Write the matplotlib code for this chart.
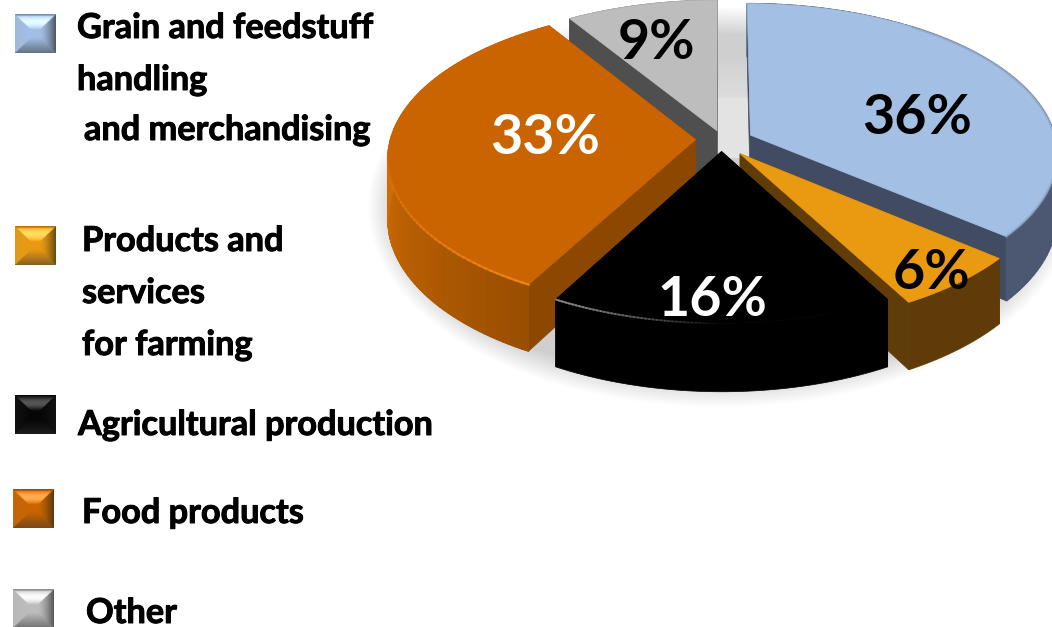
import numpy as np
import matplotlib
matplotlib.use("Agg")
import matplotlib.pyplot as plt
import matplotlib.patheffects as pe
from matplotlib.colors import to_rgb
from matplotlib.patches import Ellipse, Polygon, Rectangle

# shares, clockwise from 12 o'clock
categories = ["Grain and feedstuff handling and merchandising",
              "Products and services for farming",
              "Agricultural production",
              "Food products",
              "Other"]
shares = [36, 6, 16, 33, 9]

top_colors = ["#a3bfe4", "#ea9a10", "#000000", "#c96400", "#bdbdbd"]
side_colors = ["#414c62", "#603d08", "#000000", "#8c4700", "#4f4f4f"]
rim_front = ["#465270", "#5e3b07", "#000000", "#9a4e00", "#4f4f4f"]
rim_back = ["#4c5872", "#5e3b07", "#000000", "#d06c05", "#4f4f4f"]
pct_colors = ["black", "black", "white", "white", "black"]

legend_lines = [("Grain and feedstuff", 77, 38), ("handling", 77, 90),
                ("and merchandising", 84, 140),
                ("Products and", 82, 251), ("services", 82, 303),
                ("for farming", 82, 355),
                ("Agricultural production", 78, 435),
                ("Food products", 82, 523),
                ("Other", 86, 623)]
swatches = [(15, 14), (15, 226), (15, 395), (13, 489), (13, 589)]

# projection of the pie plane
cx, cy = 720, 147
rx, ry = 307, 150
persp = 0.12
depth = 60

# per slice pull-out in plane coordinates, and label anchors in pixels
pull = [(0.10, -0.08), (0.065, 0.045), (0.005, 0.03), (-0.08, -0.05), (-0.01, -0.11)]
pct_pos = [(917, 134), (931, 289), (712, 316), (545, 154), (657, 59)]
draw_order = [4, 0, 3, 1, 2]


def project(u, v, z=0.0):
    s = 1 / (1 - persp * v)
    return cx + rx * u * s, cy + ry * v * s + z * s


def mix(c1, c2, t):
    a, b = np.array(to_rgb(c1)), np.array(to_rgb(c2))
    return tuple(a + (b - a) * t)


def swatch_image(color, n=60):
    # bevelled square: light top edge, dark right and bottom edges
    base = np.array(to_rgb(color))
    yy, xx = np.mgrid[0:n, 0:n] / (n - 1)
    d = np.minimum.reduce([xx, 1 - xx, yy, 1 - yy])
    img = np.zeros((n, n, 3))
    top = (yy <= xx) & (yy <= 1 - xx)
    bottom = (yy >= xx) & (yy >= 1 - xx)
    left = (xx < yy) & (xx < 1 - yy)
    right = (xx > yy) & (xx > 1 - yy)
    fade = np.clip(1 - d / 0.4, 0, 1)
    mul = np.ones((n, n))
    add = np.zeros((n, n))
    add[top] = 0.32 * np.sin(np.pi * np.clip(fade[top], 0, 1))
    mul[top] = 1 - 0.25 * (d[top] < 0.04)
    mul[bottom] = 1 - 0.5 * fade[bottom]
    add[bottom] = 0.1 * fade[bottom]
    mul[left] = 1 - 0.08 * fade[left]
    add[left] = 0.05 * fade[left]
    mul[right] = 1 - 0.6 * fade[right] ** 1.5
    add[right] = 0.06 * fade[right]
    for k in range(3):
        img[:, :, k] = np.clip(base[k] * mul + add * (1 - base[k] * 0.3), 0, 1)
    return img


plt.rcParams["font.family"] = ["Lato", "DejaVu Sans"]
fig = plt.figure(figsize=(10.52, 6.27), dpi=100)
ax = fig.add_axes([0, 0, 1, 1])
ax.set_xlim(0, 1052)
ax.set_ylim(627, 0)
ax.axis("off")

# soft ground shadow
for k in range(24):
    grow = 1 - k / 24
    ax.add_patch(Ellipse((720, 207), 2 * (322 + 30 * grow), 2 * (172 + 28 * grow),
                         fc="black", ec="none", alpha=0.006, zorder=1))
# light patch seen in the gap behind the slices
ax.add_patch(Rectangle((716, 98), 34, 60, fc="#e3e3e3", ec="none", zorder=1))
for k in range(10):
    ax.add_patch(Rectangle((716, 60 + 4 * k), 34, 40, fc="#e3e3e3", ec="none",
                           alpha=0.12, zorder=1))

# slices, back to front
total = sum(shares)
edges = np.cumsum([0] + shares) / total * 2 * np.pi
z = 2
for i in draw_order:
    pu, pv = pull[i]
    ang = np.linspace(edges[i], edges[i + 1], 90)
    u = pu + np.sin(ang)
    v = pv - np.cos(ang)

    # radial walls
    for a_u, a_v in [(u[0], v[0]), (u[-1], v[-1])]:
        wall = [project(pu, pv), project(a_u, a_v),
                project(a_u, a_v, depth), project(pu, pv, depth)]
        ax.add_patch(Polygon(wall, fc=side_colors[i], ec=side_colors[i], lw=0.5, zorder=z))

    # outer wall: solid backing first, then short strips so the shade can change along it
    band = [project(a, b) for a, b in zip(u, v)] + \
           [project(a, b, depth) for a, b in zip(u[::-1], v[::-1])]
    ax.add_patch(Polygon(band, fc=rim_front[i], ec=rim_front[i], lw=0.5, zorder=z))
    if rim_front[i] != rim_back[i]:
        for k in range(len(ang) - 1):
            t = min(1, 2 * k / (len(ang) - 2))
            c = mix(rim_front[i], rim_back[i], t)
            strip = [project(u[k], v[k]), project(u[k + 1], v[k + 1]),
                     project(u[k + 1], v[k + 1], depth), project(u[k], v[k], depth)]
            ax.add_patch(Polygon(strip, fc=c, ec=c, lw=1.0, zorder=z))

    # top face
    outline = [project(pu, pv)] + [project(a, b) for a, b in zip(u, v)]
    ax.add_patch(Polygon(outline, fc=top_colors[i], ec=top_colors[i], lw=0.5, zorder=z + 1))

    # rim highlights
    if i == 3:
        xs, ys = project(u[:42], v[:42])
        n = len(xs)
        for k in range(n - 1):
            ax.plot(xs[k:k + 2], ys[k:k + 2], color="#ee8215", lw=1.6,
                    alpha=1 - k / n, zorder=z + 1)
    if i == 2:
        xs, ys = project(u[45:], v[45:])
        n = len(xs)
        for k in range(n - 1):
            ax.plot(xs[k:k + 2], ys[k:k + 2], color="#8a8a8a", lw=1.3,
                    alpha=k / n, zorder=z + 1)
    if i == 0:
        xs, ys = project(u[25:], v[25:])
        ax.plot(xs, ys, color="#7f93b0", lw=2.0, alpha=0.4, zorder=z + 1)
    z += 2

# percentage labels
for i, (x, y) in enumerate(pct_pos):
    ax.text(x, y, f"{shares[i]}%", color=pct_colors[i], fontsize=40, fontweight="bold",
            ha="center", va="baseline", zorder=30)

# legend
for i, (x, y) in enumerate(swatches):
    ax.imshow(swatch_image(top_colors[i] if i != 2 else "#050505"),
              extent=(x, x + 41, y + 39, y), zorder=5, aspect="auto", interpolation="bilinear")
ax.set_xlim(0, 1052)
ax.set_ylim(627, 0)

# thin stroke thickens the bold face a little
heavier = [pe.withStroke(linewidth=0.7, foreground="black")]
for line, x, y in legend_lines:
    ax.text(x, y, line, color="black", fontsize=24.7, fontweight="bold",
            ha="left", va="baseline", zorder=30, path_effects=heavier)

fig.savefig("out.png", dpi=100)
